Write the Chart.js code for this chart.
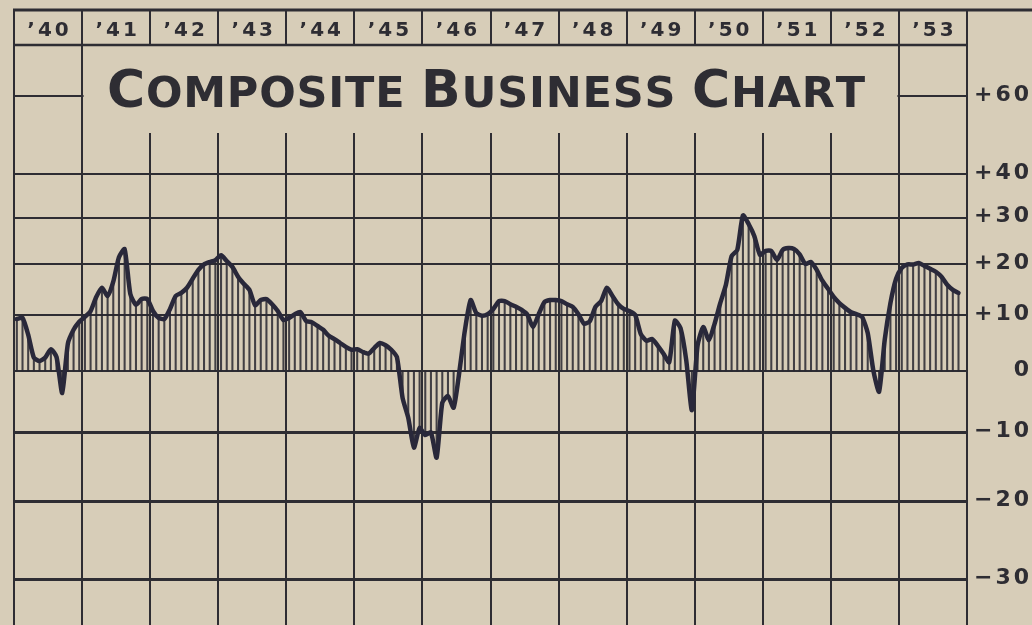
<!DOCTYPE html>
<html>
<head>
<meta charset="utf-8">
<title>Composite Business Chart</title>
<script src="https://cdn.jsdelivr.net/npm/chart.js@4.4.1/dist/chart.umd.min.js"></script>
<style>
  html, body { margin: 0; padding: 0; background: #d7cdb8; }
  canvas { display: block; }
</style>
</head>
<body>
<canvas id="businessChart" width="1032" height="625"></canvas>
<script>
// year header labels (one cell per year)
const yearLabels = ["’40", "’41", "’42", "’43", "’44", "’45", "’46", "’47", "’48", "’49", "’50", "’51", "’52", "’53"];

// monthly deviation from normal, percent
const v1940 = [9.3, 9.5, 6.4, 2.3, 1.7, 2.3, 3.8, 2.4, -3.7, 4.8, 7.3, 8.8];
const v1941 = [9.7, 10.8, 13.5, 15.3, 13.7, 16.5, 21.5, 23.2, 14.1, 12, 13.1, 13.1];
const v1942 = [10.8, 9.5, 9.3, 11.2, 13.7, 14.3, 15.3, 17.1, 18.9, 20, 20.5, 20.9];
const v1943 = [21.9, 20.7, 19.5, 17.5, 16.1, 14.9, 11.9, 12.9, 13.1, 12.1, 10.8, 9.1];
const v1944 = [9.5, 10.2, 10.6, 8.9, 8.7, 8, 7.3, 6.2, 5.6, 4.9, 4.2, 3.7];
const v1945 = [3.8, 3.3, 3, 4, 4.9, 4.5, 3.7, 2.4, -4.5, -7.7, -12.3, -9.3];
const v1946 = [-10.4, -10, -13.8, -5.3, -4.2, -6.1, -0.2, 7.3, 12.9, 10.4, 9.9, 10.2];
const v1947 = [11.2, 12.7, 12.7, 12.1, 11.6, 11, 10.1, 7.8, 10.2, 12.5, 12.9, 12.9];
const v1948 = [12.7, 12.1, 11.6, 10.2, 8.4, 8.9, 11.6, 12.7, 15.3, 13.7, 12.1, 11.2];
const v1949 = [10.8, 10.1, 6.5, 5.3, 5.6, 4.4, 3, 1.5, 9, 7.6, 1.9, -6.5];
const v1950 = [4.4, 7.8, 5.4, 8.4, 12.3, 15.9, 21.7, 23, 30.5, 28.6, 26, 22];
const v1951 = [22.8, 22.8, 20.9, 23, 23.4, 23.2, 22.1, 20.1, 20.5, 18.9, 16.7, 15.1];
const v1952 = [13.5, 12.3, 11.4, 10.6, 10.2, 9.7, 6.7, 0, -3.5, 5.5, 12.3, 17.1];
const v1953 = [19.3, 20, 20, 20.3, 19.7, 19.1, 18.5, 17.5, 15.9, 14.9, 14.3];

// right hand scale
const yTicks = [60, 40, 30, 20, 10, 0, -10, -20, -30];
const yTickLabels = ["+60", "+40", "+30", "+20", "+10", "0", "−10", "−20", "−30"];

const monthly = [].concat(v1940, v1941, v1942, v1943, v1944, v1945, v1946,
  v1947, v1948, v1949, v1950, v1951, v1952, v1953);

const paper = "#d7cdb8";
const ink = "#2e2d33";
const fontFamily = "'DejaVu Sans', 'Liberation Sans', sans-serif";

// the scale is a ratio scale: plot 100 + deviation on a log axis
const toIndex = (v) => 100 + v;

const paperPlugin = {
  id: "paperFrame",
  beforeDraw(chart) {
    const { ctx, width, height } = chart;
    ctx.save();
    ctx.fillStyle = paper;
    ctx.fillRect(0, 0, width, height);
    ctx.restore();
  },
  beforeDatasetsDraw(chart) {
    const { ctx, chartArea } = chart;
    const x = chart.scales.x;
    const left = chartArea.left;
    const right = chartArea.right;
    const headerBottom = 45;

    ctx.save();
    // title panel hides the grid behind it
    const boxLeft = x.getPixelForValue(12) + 1.5;
    const boxRight = x.getPixelForValue(156) - 1.5;
    ctx.fillStyle = paper;
    ctx.fillRect(boxLeft, headerBottom + 1, boxRight - boxLeft, 133 - headerBottom - 1);

    // header rules
    ctx.strokeStyle = ink;
    ctx.lineWidth = 3;
    ctx.beginPath();
    ctx.moveTo(left - 1, chartArea.top);
    ctx.lineTo(chart.width, chartArea.top);
    ctx.stroke();
    ctx.lineWidth = 2.5;
    ctx.beginPath();
    ctx.moveTo(left, headerBottom);
    ctx.lineTo(right, headerBottom);
    ctx.stroke();

    // year labels
    ctx.fillStyle = ink;
    ctx.font = `bold 20px ${fontFamily}`;
    ctx.letterSpacing = "3px";
    ctx.textAlign = "center";
    ctx.textBaseline = "alphabetic";
    yearLabels.forEach((label, i) => {
      const cx = (x.getPixelForValue(i * 12) + x.getPixelForValue(i * 12 + 12)) / 2;
      ctx.fillText(label, cx + 1.5, 36);
    });

    // title in small caps
    const parts = [
      ["C", 52], ["OMPOSITE", 43], [" ", 43],
      ["B", 52], ["USINESS", 43], [" ", 43],
      ["C", 52], ["HART", 43]
    ];
    ctx.letterSpacing = "0px";
    ctx.textAlign = "left";
    const glyphs = [];
    parts.forEach(([text, size]) => {
      for (const ch of text) {
        ctx.font = `bold ${size}px ${fontFamily}`;
        glyphs.push({ ch, size, w: ctx.measureText(ch).width });
      }
    });
    const natural = glyphs.reduce((sum, g) => sum + g.w, 0);
    const gap = (758 - natural) / (glyphs.length - 1);
    let tx = 107;
    glyphs.forEach((g) => {
      ctx.font = `bold ${g.size}px ${fontFamily}`;
      ctx.fillText(g.ch, tx, 107);
      tx += g.w + gap;
    });
    ctx.restore();
  },
  afterDatasetsDraw(chart) {
    const { ctx } = chart;
    const y = chart.scales.y;
    ctx.save();
    ctx.fillStyle = ink;
    ctx.font = `bold 22px ${fontFamily}`;
    ctx.letterSpacing = "3px";
    ctx.textAlign = "right";
    ctx.textBaseline = "middle";
    yTicks.forEach((t, i) => {
      ctx.fillText(yTickLabels[i], 1032, y.getPixelForValue(toIndex(t)) - 1);
    });
    ctx.restore();
  }
};

new Chart(document.getElementById("businessChart"), {
  type: "bar",
  data: {
    datasets: [{
      type: "line",
      data: monthly.map((v, i) => ({ x: i + 0.5, y: toIndex(v) })),
      borderColor: "#29283a",
      borderWidth: 4.5,
      borderJoinStyle: "round",
      borderCapStyle: "round",
      tension: 0.2,
      pointRadius: 0,
      order: 0
    }, {
      type: "bar",
      data: monthly.map((v, i) => ({ x: i + 0.5, y: [100, toIndex(v)] })),
      backgroundColor: "rgba(40, 39, 48, .85)",
      borderWidth: 0,
      barThickness: 1.4,
      order: 1
    }]
  },
  options: {
    responsive: false,
    animation: false,
    layout: {
      padding: { left: 14, right: 0, top: 10, bottom: 0 }
    },
    plugins: {
      legend: { display: false },
      tooltip: { enabled: false }
    },
    scales: {
      x: {
        type: "linear",
        bounds: "data",
        offset: false,
        min: 0,
        max: yearLabels.length * 12,
        afterBuildTicks(scale) {
          scale.ticks = yearLabels.map((_, i) => ({ value: i * 12 })).concat([{ value: yearLabels.length * 12 }]);
        },
        afterFit(scale) {
          scale.height = 0;
        },
        ticks: { display: false },
        border: { display: false },
        grid: {
          offset: false,
          color: ink,
          lineWidth: 2,
          drawTicks: false
        }
      },
      y: {
        type: "logarithmic",
        position: "right",
        bounds: "data",
        min: 64.73,
        max: 185.5,
        afterBuildTicks(scale) {
          scale.ticks = yTicks.map((t) => ({ value: toIndex(t) }));
        },
        afterFit(scale) {
          scale.width = 65;
        },
        ticks: { display: false },
        border: { display: false },
        grid: {
          color: ink,
          lineWidth: (context) => (context.tick && context.tick.value < 100 ? 3 : 2),
          drawTicks: false
        }
      }
    }
  },
  plugins: [paperPlugin]
});
</script>
</body>
</html>
